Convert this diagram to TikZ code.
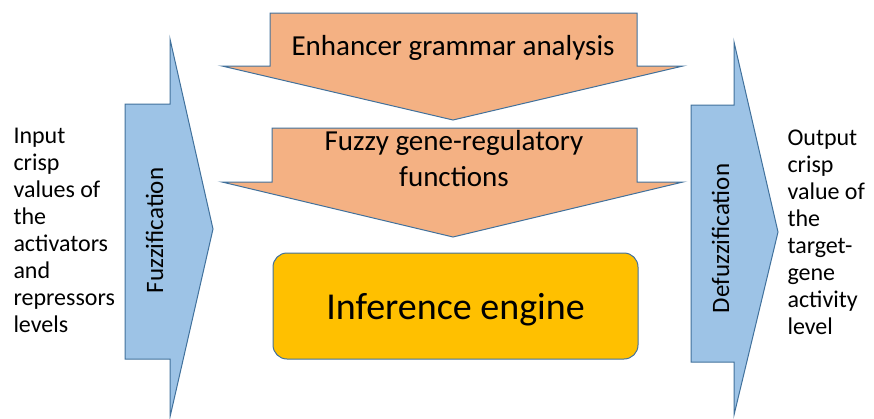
\documentclass[tikz,border=0pt]{standalone}
\usepackage{fontspec}
\setmainfont{Carlito}
\definecolor{cblue}{HTML}{9DC3E6}
\definecolor{corange}{HTML}{F4B183}
\definecolor{cgold}{HTML}{FFC000}
\definecolor{cedge}{HTML}{41719C}
\tikzset{
  every picture/.style={line width=1pt},
  chevron/.style={draw=cedge, fill=cblue},
  downarrow/.style={draw=cedge, fill=corange},
  engine/.style={draw=cedge, fill=cgold, rounded corners=14pt, minimum width=365pt, minimum height=106pt, text depth=0pt, font=\fontsize{38}{46}\selectfont},
  sidetext/.style={font=\fontsize{24}{27}\selectfont, align=left, inner sep=0pt, anchor=north west},
  steplabel/.style={font=\fontsize{29}{35.5}\selectfont, align=center, inner sep=0pt},
  sidelabel/.style={font=\fontsize{25}{30}\selectfont, rotate=90, inner sep=0pt, anchor=base},
}

\begin{document}
\begin{tikzpicture}[x=1pt, y=-1pt]
  \useasboundingbox (0,0) rectangle (874,418);
  % side chevrons
  \draw[chevron] (125,104) -- (170,104) -- (170,39) -- (213,229) -- (170,417) -- (170,359) -- (125,359) -- cycle;
  \draw[chevron] (691,105) -- (734,105) -- (734,42) -- (778,232) -- (734,415) -- (734,362) -- (691,362) -- cycle;
  % two down arrows into the engine
  \draw[downarrow] (270,13) -- (637,13) -- (637,66) -- (683,66) -- (453,120) -- (222,66) -- (270,66) -- cycle;
  \draw[downarrow] (272,128) -- (637,128) -- (637,182) -- (683,182) -- (453,237) -- (222,182) -- (272,182) -- cycle;
  \node[engine] (engine) at (455.5,306) {Inference engine};
  \node[steplabel, anchor=base] (grammar) at (453,55) {Enhancer grammar analysis};
  \node[steplabel] (fuzzyfn) at (454,158.6) {Fuzzy gene-regulatory\\functions};
  \node[sidelabel] (fuzz) at (163,230.5) {Fuzzification};
  \node[sidelabel] (defuzz) at (729,238.5) {Defuzzification};
  % input and output text
  \node[sidetext] (input) at (13,127.5) {Input\\crisp\\values of\\the\\activators\\and\\repressors\\levels};
  \node[sidetext] (output) at (787,129.5) {Output\\crisp\\value of\\the\\target-\\gene\\activity\\level};
\end{tikzpicture}
\end{document}
